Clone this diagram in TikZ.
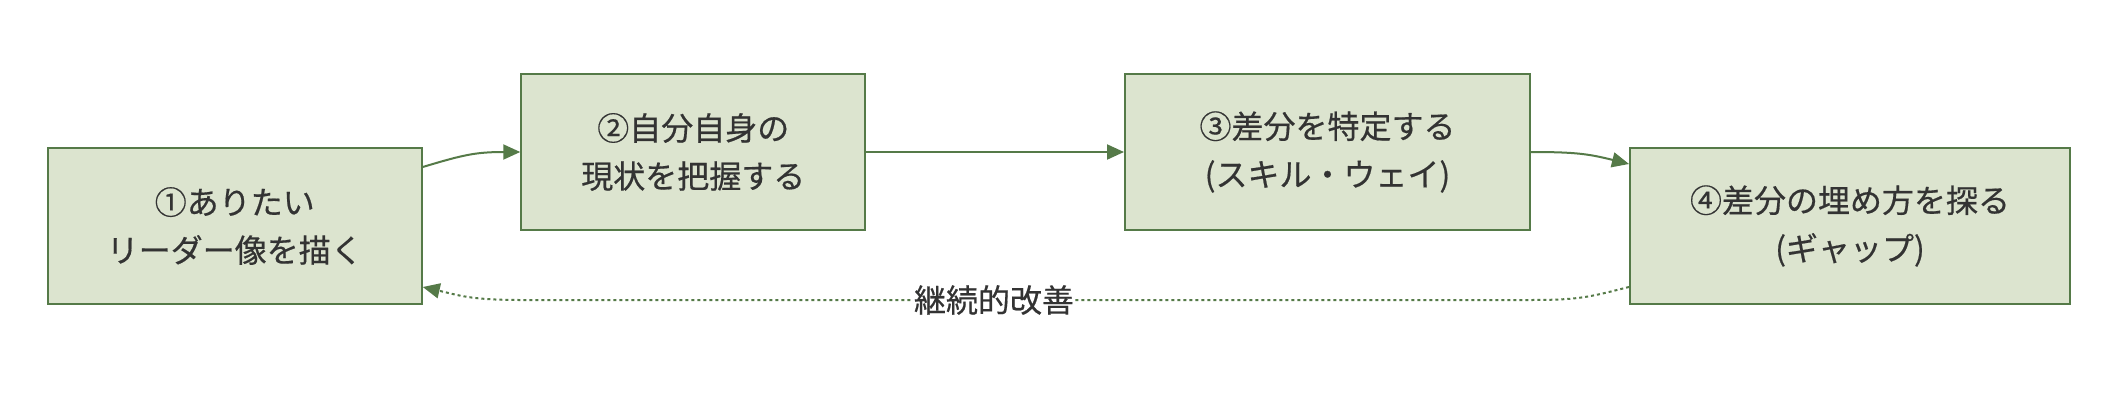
\documentclass[tikz,border=0pt]{standalone}
\usepackage{fontspec}
\newfontfamily\jp[FakeBold=0.5]{Noto Sans CJK JP}
\usetikzlibrary{arrows.meta,calc}
\definecolor{boxfill}{HTML}{DCE4CF}
\definecolor{boxline}{HTML}{557A48}
\definecolor{txt}{HTML}{333333}
\begin{document}
\begin{tikzpicture}[x=1pt,y=-1pt,
  stepbox/.style={draw=boxline, fill=boxfill, line width=2pt, minimum height=156pt,
    inner sep=0pt, align=center, text=txt, font=\jp\fontsize{32}{48}\selectfont},
  flow/.style={draw=boxline, line width=2pt, -{Triangle[length=17pt,width=15pt]}},
  loopline/.style={flow, dash pattern=on 3pt off 3pt},
  looplabel/.style={fill=white, inner sep=1pt, text=txt, font=\jp\fontsize{32}{36}\selectfont}
]
\useasboundingbox[fill=white] (0,0) rectangle (2118,402);

\node[stepbox, minimum width=374pt] (n1) at (234.75,226) {①ありたい\\リーダー像を描く};
\node[stepbox, minimum width=344pt] (n2) at (693.25,152) {②自分自身の\\現状を把握する};
\node[stepbox, minimum width=405pt] (n3) at (1327.5,152) {③差分を特定する\\(スキル・ウェイ)};
\node[stepbox, minimum width=440pt] (n4) at (1850,226) {④差分の埋め方を探る\\(ギャップ)};

\draw[flow] ($(n1.east)+(0,-59)$) .. controls +(40,-12) and +(-45,0) .. (n2.west);
\draw[flow] (n2.east) -- (n3.west);
\draw[flow] (n3.east) .. controls +(45,0) and +(-40,-10) .. ($(n4.west)+(0,-62)$);

\coordinate (lr) at (1530,300);
\coordinate (ll) at (520,300);
\draw[loopline] ($(n4.west)+(0,61)$) .. controls +(-40,10) and +(50,0) .. (lr) -- (ll)
  .. controls +(-50,0) and +(35,8) .. ($(n1.east)+(0,61)$);
\node[looplabel] (lab) at (994,300) {継続的改善};
\end{tikzpicture}
\end{document}
